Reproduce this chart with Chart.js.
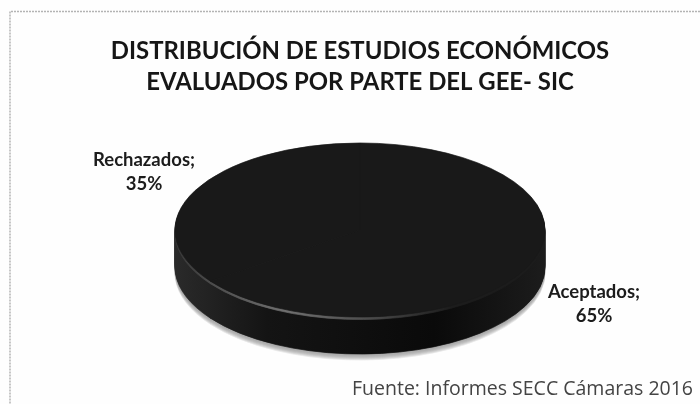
<!DOCTYPE html>
<html>
<head>
<meta charset="utf-8">
<script src="https://cdn.jsdelivr.net/npm/chart.js@4"></script>
<style>
html, body { margin: 0; padding: 0; background: #fefefe; }
canvas { display: block; }
</style>
</head>
<body>
<canvas id="myChart" width="700" height="404"></canvas>
<script>
const categories = ['Aceptados', 'Rechazados'];
const percentValues = [65, 35];
const titleLines = ['DISTRIBUCIÓN DE ESTUDIOS ECONÓMICOS', 'EVALUADOS POR PARTE DEL GEE- SIC'];
const sourceNote = 'Fuente: Informes SECC Cámaras 2016';

// the pie is drawn round by Chart.js and squashed here to look tilted
const tiltCenterY = 230;
const tiltScale = 87 / 185;
const pieDepth = 37;

function tilt(chart, ctx, offsetY) {
    const arc = chart.getDatasetMeta(0).data[0];
    ctx.translate(0, tiltCenterY + offsetY);
    ctx.scale(1, tiltScale);
    ctx.translate(0, -arc.y);
}

function drawArcs(chart, ctx, color) {
    chart.getDatasetMeta(0).data.forEach(arc => {
        const old = arc.options;
        arc.options = Object.assign({}, old, { backgroundColor: color, borderColor: color });
        arc.draw(ctx);
        arc.options = old;
    });
}

const tiltedPie = {
    id: 'tiltedPie',
    beforeDatasetsDraw(chart) {
        const ctx = chart.ctx;
        const arc = chart.getDatasetMeta(0).data[0];
        const left = arc.x - arc.outerRadius;
        const right = arc.x + arc.outerRadius;

        // grey shadow under the disc, light at the outside
        const shadowShades = ['#e6e6e6', '#d4d4d4', '#c4c4c4', '#b8b8b8', '#b0b0b0', '#aaaaaa'];
        shadowShades.forEach((shade, i) => {
            ctx.save();
            tilt(chart, ctx, pieDepth + 6 - i);
            drawArcs(chart, ctx, shade);
            ctx.restore();
        });

        // side wall
        const side = ctx.createLinearGradient(left, 0, right, 0);
        side.addColorStop(0, '#2a2a2a');
        side.addColorStop(0.25, '#141414');
        side.addColorStop(0.7, '#0a0a0a');
        side.addColorStop(1, '#1c1c1c');
        for (let d = pieDepth; d > 0; d--) {
            ctx.save();
            tilt(chart, ctx, d);
            drawArcs(chart, ctx, side);
            ctx.restore();
        }

        // light rim along the lower left edge
        const rim = ctx.createLinearGradient(left, 0, right, 0);
        rim.addColorStop(0, '#3a3a3a');
        rim.addColorStop(0.3, '#707070');
        rim.addColorStop(0.5, '#505050');
        rim.addColorStop(0.75, '#1c1c1c');
        rim.addColorStop(1, '#1c1c1c');
        ctx.save();
        tilt(chart, ctx, 2.5);
        drawArcs(chart, ctx, rim);
        ctx.restore();

        ctx.save();
        tilt(chart, ctx, 0);
    },
    afterDatasetsDraw(chart) {
        chart.ctx.restore();
    },
    afterDraw(chart) {
        const ctx = chart.ctx;
        const meta = chart.getDatasetMeta(0);

        // page frame, only top and left are in the photo
        ctx.save();
        ctx.strokeStyle = '#b4b4b4';
        ctx.lineWidth = 1.5;
        ctx.setLineDash([2, 1]);
        ctx.beginPath();
        ctx.moveTo(700, 11.5);
        ctx.lineTo(10, 11.5);
        ctx.lineTo(10, 404);
        ctx.stroke();
        ctx.restore();

        // data labels were moved by hand in the original
        const labelShift = [[234, 74], [-216, -58]];
        ctx.save();
        ctx.font = 'bold 18.5px Lato';
        ctx.fillStyle = '#1c1c1c';
        ctx.textAlign = 'center';
        ctx.textBaseline = 'middle';
        meta.data.forEach((arc, i) => {
            const x = arc.x + labelShift[i][0];
            const y = tiltCenterY + labelShift[i][1];
            ctx.fillText(categories[i] + ';', x, y - 12);
            ctx.fillText(percentValues[i] + '%', x, y + 12);
        });
        ctx.restore();
    }
};

const myChart = new Chart(document.getElementById('myChart').getContext('2d'), {
    type: 'pie',
    data: {
        labels: categories,
        datasets: [{
            data: percentValues,
            backgroundColor: ['#191919', '#191919'],
            borderColor: '#191919',
            borderWidth: 1,
            radius: 185,
            clip: false
        }]
    },
    options: {
        responsive: false,
        animation: false,
        layout: { padding: { left: 27, right: 7 } },
        plugins: {
            legend: { display: false },
            tooltip: { enabled: false },
            title: {
                display: true,
                text: titleLines,
                color: '#161616',
                font: { family: 'Lato', size: 23.9, weight: 'bold', lineHeight: 1.28 },
                padding: { top: 36, bottom: 10 }
            },
            subtitle: {
                display: true,
                text: sourceNote,
                position: 'bottom',
                align: 'end',
                color: '#444444',
                font: { family: 'Open Sans', size: 19.5 },
                padding: { top: 0, bottom: 3 }
            }
        }
    },
    plugins: [tiltedPie]
});
</script>
</body>
</html>
